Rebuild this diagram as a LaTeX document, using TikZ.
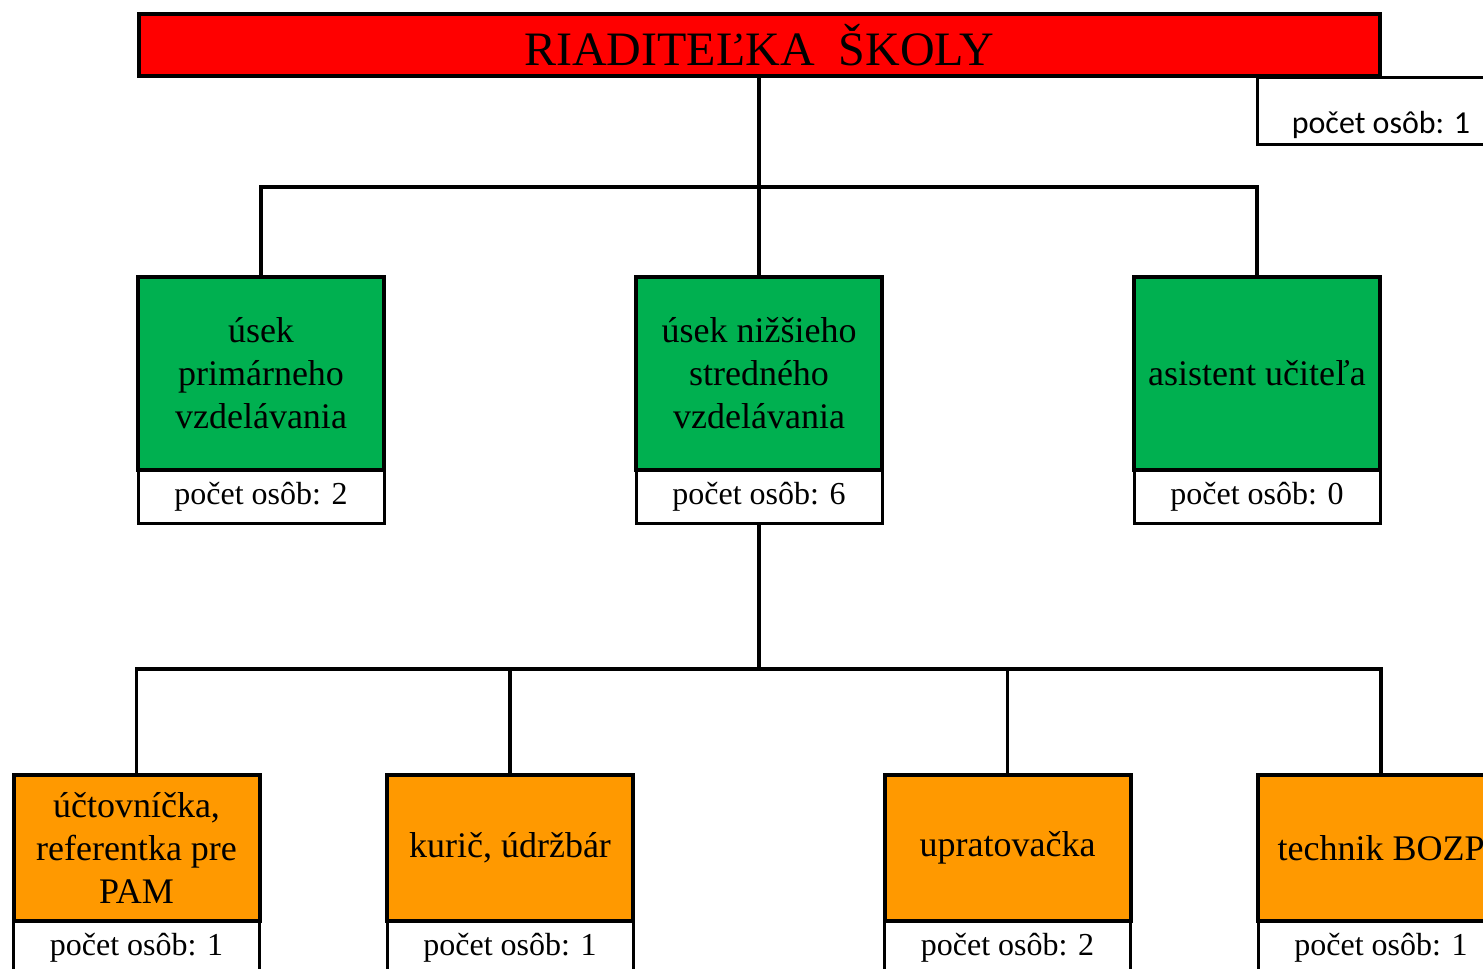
\documentclass[tikz,border=0pt]{standalone}
\usepackage{fontspec}
\setmainfont{Liberation Serif}
\newfontfamily\calibrifont{Carlito}

\begin{document}
\begin{tikzpicture}  [x=1pt, y=-1pt,
    unit/.style={draw, line width=4pt, outer sep=0pt, inner sep=0pt, minimum width=246pt, align=center, anchor=north, font=\fontsize{36}{43}\selectfont},
    count/.style={draw, line width=3pt, outer sep=0pt, inner sep=0pt, fill=white, minimum width=246pt, minimum height=53pt, anchor=north, font=\fontsize{32}{38}\selectfont},
    link/.style={line width=3.5pt},
  ]

\definecolor{titlered}{RGB}{255,0,0}
\definecolor{sectgreen}{RGB}{0,176,80}
\definecolor{staffocher}{RGB}{255,153,0}

\useasboundingbox (0,0) rectangle (1483,969);
\clip (0,0) rectangle (1483,969);

% riaditelka
\node [draw, line width=4pt, outer sep=0pt, inner sep=0pt, fill=titlered, minimum width=1241pt, minimum height=62pt, font=\fontsize{48}{50}\selectfont] (riaditel) at (759,45) {RIADITEĽKA\ \ ŠKOLY};
\node [draw, line width=3pt, outer sep=0pt, inner xsep=0pt, inner ysep=1pt, minimum width=248pt, text height=55pt, text depth=10pt, anchor=north, font=\calibrifont\fontsize{32}{38}\selectfont] (pocriad) at (1381,77) {počet osôb: 1};

% useky
\node [unit, fill=sectgreen, minimum height=193pt] (prim) at (261,277) {úsek\\primárneho\\vzdelávania};
\node [unit, fill=sectgreen, minimum height=193pt] (nizs) at (759,277) {úsek nižšieho\\stredného\\vzdelávania};
\node [unit, fill=sectgreen, minimum height=193pt] (asist) at (1257,277) {asistent učiteľa};
\node [count] (pocprim) at (prim.south) {počet osôb: 2};
\node [count] (pocnizs) at (nizs.south) {počet osôb: 6};
\node [count] (pocasist) at (asist.south) {počet osôb: 0};

% zamestnanci
\node [unit, fill=staffocher, minimum height=146pt] (uct) at (136.5,775) {účtovníčka,\\referentka pre\\PAM};
\node [unit, fill=staffocher, minimum height=146pt] (kuric) at (510,775) {kurič, údržbár};
\node [unit, fill=staffocher, minimum height=146pt] (uprat) at (1007.5,775) {upratovačka};
\node [unit, fill=staffocher, minimum height=146pt] (bozp) at (1381,775) {technik BOZP};
\foreach \n/\k in {uct/1,kuric/1,uprat/2,bozp/1}
    \node [count] (poc\n) at (\n.south) {počet osôb: \k};

% spojnice
\coordinate (bus1) at (759,187);
\coordinate (bus2) at (759,669);
\draw [link] (riaditel.south) -- (bus1);
\foreach \n in {prim,nizs,asist}
    \draw [link] (bus1) -| (\n.north);
\draw [link] (pocnizs.south) -- (bus2);
\foreach \n in {uct,kuric,uprat,bozp}
    \draw [link] (bus2) -| (\n.north);
\end{tikzpicture}
\end{document}
